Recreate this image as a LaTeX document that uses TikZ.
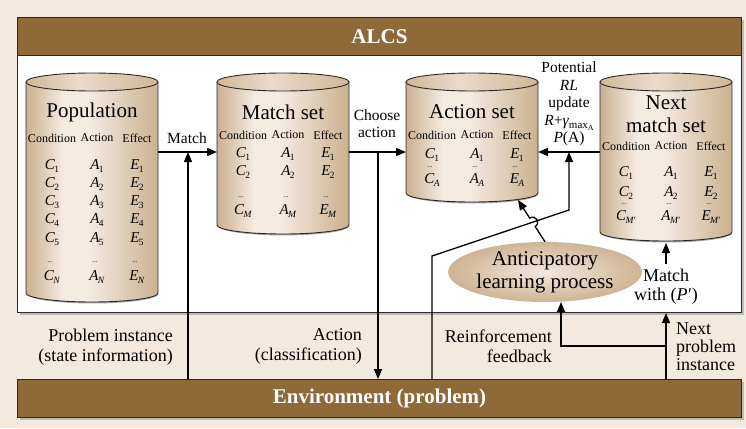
\documentclass[tikz,border=0pt]{standalone}
\usepackage{fontspec}
\setmainfont{Liberation Serif}
\usetikzlibrary{arrows.meta,calc,shapes.geometric,shadows}

\definecolor{bgcream}{HTML}{F3E9DF}
\definecolor{barbrown}{HTML}{8D6A38}
\definecolor{cyltan}{HTML}{CCB08F}
\definecolor{cyllight}{HTML}{F4EBE1}
\definecolor{cyltopdark}{HTML}{D2B797}
\definecolor{cyltoplight}{HTML}{E9DACA}
\definecolor{edgegray}{HTML}{2A2A2A}
\definecolor{alpouter}{HTML}{CFB394}
\definecolor{alpinner}{HTML}{F3E9DE}

% horizontal shading of the cylinder bodies (path box maps to 25bp..75bp)
\pgfdeclarehorizontalshading{cylbody}{100bp}{color(0bp)=(cyltan); color(25bp)=(cyltan); color(39bp)=(cyllight); color(49bp)=(cyllight); color(75bp)=(cyltan); color(100bp)=(cyltan)}
\pgfdeclarehorizontalshading{cyltop}{100bp}{color(0bp)=(cyltopdark); color(25bp)=(cyltopdark); color(45bp)=(cyltoplight); color(75bp)=(cyltopdark); color(100bp)=(cyltopdark)}

\tikzset{
  cylbodystyle/.style={shading=cylbody, draw=edgegray, line width=0.9pt},
  cyltopstyle/.style={shading=cyltop, draw=edgegray, line width=0.9pt},
  cylshadow/.style={draw=black!35, line width=1.6pt},
  settitle/.style={font=\fontsize{21}{24}\selectfont, inner sep=0pt, align=center},
  colhead/.style={font=\fontsize{12}{14}\selectfont, inner sep=0pt},
  entry/.style={font=\fontsize{15}{17}\selectfont, inner sep=0pt},
  smalldots/.style={font=\fontsize{7}{7}\selectfont, inner sep=0pt},
  toplabel/.style={font=\fontsize{15.5}{17.5}\selectfont, inner sep=0pt, align=center},
  lowlabel/.style={font=\fontsize{18}{19.5}\selectfont, inner sep=0pt},
  bar/.style={fill=barbrown, draw=edgegray, line width=1pt, minimum width=724pt,
    minimum height=38pt, anchor=north west, inner sep=0pt, text=white,
    font=\fontsize{21}{24}\selectfont\bfseries},
  conn/.style={line width=1.3pt, draw=black},
  arr/.style={conn, -{Triangle[length=10pt,width=8pt]}},
}

% classifier entry: italic letter with lowered subscript
\newcommand\clsf[2]{\textit{#1}\kern-0.6pt\raisebox{-0.45ex}{\fontsize{9.5}{10}\selectfont #2}}

% cylinder: #1 name, #2 centre x, #3 top y, #4 bottom y
\newcommand\drawcyl[4]{%
  \draw[cylshadow] ({#2-64},{#4-8}) arc[start angle=185,end angle=355,x radius=65pt,y radius=9.5pt];
  \shadedraw[cylbodystyle] ({#2-66},{#3+9}) -- ({#2-66},{#4-9})
    arc[start angle=180,end angle=360,x radius=66pt,y radius=9pt]
    -- ({#2+66},{#3+9}) -- cycle;
  \shadedraw[cyltopstyle] (#2,{#3+9}) ellipse[x radius=66pt,y radius=9pt];
  \coordinate (#1) at (#2,{(#3+#4)/2});
}
% column headings: #1 prefix, #2 centre x, #3 y
\newcommand\headrow[3]{%
  \node[colhead] (#1-hc) at ({#2-40},#3) {Condition};
  \node[colhead] (#1-ha) at ({#2+5},#3) {Action};
  \node[colhead] (#1-he) at ({#2+45},#3) {Effect};
}
% one classifier row: #1 prefix, #2 centre x, #3 y, #4 subscript
\newcommand\tabrow[4]{%
  \node[entry] (#1-c) at ({#2-40},#3) {\clsf{C}{#4}};
  \node[entry] (#1-a) at ({#2+5},#3) {\clsf{A}{#4}};
  \node[entry] (#1-e) at ({#2+45},#3) {\clsf{E}{#4}};
}
% ellipsis row: #1 prefix, #2 centre x, #3 y
\newcommand\dotrow[3]{%
  \node[smalldots] (#1-c) at ({#2-42},#3) {...};
  \node[smalldots] (#1-a) at ({#2+3},#3) {...};
  \node[smalldots] (#1-e) at ({#2+43},#3) {...};
}

\begin{document}
\begin{tikzpicture}[x=1pt,y=-1pt]
\useasboundingbox (0,0) rectangle (746,428);
\fill[bgcream] (0,0) rectangle (746,428);

% ALCS frame and environment bar
\node[draw=edgegray, fill=white, line width=1pt, minimum width=724pt, minimum height=295pt,
  anchor=north west, inner sep=0pt,
  drop shadow={shadow xshift=2.5pt,shadow yshift=-2.5pt,fill=black!45}] (alcs) at (17,17) {};
\node[bar] (alcsbar) at (17,17) {ALCS};
\node[bar, drop shadow={shadow xshift=2.5pt,shadow yshift=-2.5pt,fill=black!45}] (env) at (17,379) {Environment (problem)};

% cylinders
\drawcyl{pop}{92}{73}{302}
\drawcyl{ms}{283}{73}{234}
\drawcyl{as}{472}{73}{202}
\drawcyl{nm}{666}{73}{241}

% population
\node[settitle] (pop-t) at (92,112) {Population};
\headrow{pop}{92}{138}
\tabrow{pop1}{92}{166}{1}
\tabrow{pop2}{92}{184}{2}
\tabrow{pop3}{92}{202}{3}
\tabrow{pop4}{92}{220}{4}
\tabrow{pop5}{92}{239}{5}
\dotrow{popd}{92}{262}
\tabrow{popn}{92}{277}{\textit{N}}

% match set
\node[settitle] (ms-t) at (283,112) {Match set};
\headrow{ms}{283}{135}
\tabrow{ms1}{283}{154}{1}
\tabrow{ms2}{283}{172}{2}
\dotrow{msd}{283}{197}
\tabrow{msm}{283}{211}{\textit{M}}

% action set
\node[settitle] (as-t) at (472,112) {Action set};
\headrow{as}{472}{135}
\tabrow{as1}{472}{155}{1}
\dotrow{asd}{472}{167}
\tabrow{asa}{472}{180}{\textit{A}}

% next match set
\node[settitle] (nm-t) at (666,114.5) {Next\\[-1pt]match set};
\headrow{nm}{666}{146}
\tabrow{nm1}{666}{173}{1}
\tabrow{nm2}{666}{193}{2}
\dotrow{nmd}{666}{204}
\tabrow{nmm}{666}{217}{\textit{M}′}

% anticipatory learning process
\node[ellipse, minimum width=181pt, minimum height=60pt, inner sep=0pt,
  inner color=alpinner, outer color=alpouter, align=center,
  font=\fontsize{21}{23}\selectfont] (alp) at (545,272) {Anticipatory\\learning process};

% junction points
\coordinate (popE) at (158,152);
\coordinate (msW) at (217,152);
\coordinate (msE) at (349,152);
\coordinate (asW) at (406,152);
\coordinate (asE) at (538,152);
\coordinate (nmW) at (600,152);
\coordinate (nmB) at (666,243);
\coordinate (asB) at (518,200);
\coordinate (piX) at (188,152);
\coordinate (caX) at (378,152);
\coordinate (rlX) at (569,152);
\coordinate (rlK) at (569,210);
\coordinate (fbK) at (432,256);
\coordinate (npJ) at (666,346);
\coordinate (rfL) at (561,346);
\coordinate (rfT) at (561,302);
\coordinate (mwT) at (666,264);

% connectors
\draw[arr] (popE) -- (msW);
\draw[arr] (env.north -| piX) -- (piX);
\draw[arr] (msE) -- (asW);
\draw[arr] (caX) -- (env.north -| caX);
\draw[arr] (nmW) -- (asE);
\draw[arr] (env.north -| fbK) -- (fbK) -- (rlK) -- (rlX);
\draw[arr] (env.north -| npJ) -- (alcs.south -| npJ);
\draw[arr] (npJ) -- (rfL) -- (rfT);
\draw[arr] (mwT) -- (nmB);

% learning arrow hopping over the reward line
\coordinate (hopI) at (intersection of alp.north--asB and fbK--rlK);
\coordinate (hopA) at ($(hopI)!5pt!(alp.north)$);
\coordinate (hopB) at ($(hopI)!5pt!(asB)$);
\coordinate (hopAc) at ($(hopA)!7pt!-90:(hopI)$);
\coordinate (hopBc) at ($(hopB)!7pt!90:(hopI)$);
\draw[arr] (alp.north) -- (hopA) .. controls (hopAc) and (hopBc) .. (hopB) -- (asB);

% labels
\node[toplabel] (lmatch) at (187,138) {Match};
\node[toplabel] (lchoose) at (377,123.5) {Choose\\action};
\node[toplabel] (lpot) at (569,104) {Potential\\\textit{RL}\\update\\
  \textit{R}+\textit{γ}\raisebox{-0.5ex}{\fontsize{11}{11}\selectfont max\raisebox{-0.4ex}{\fontsize{8}{8}\selectfont A}}\\
  \textit{P}(A)};
\node[lowlabel, align=right, anchor=east] (lprob) at (173,347) {Problem instance\\(state information)};
\node[lowlabel, align=right, anchor=east] (lact) at (362,346.5) {Action\\(classification)};
\node[lowlabel, align=right, anchor=east] (lrf) at (552,346) {Reinforcement\\feedback};
\node[lowlabel, align=left, anchor=west, font=\fontsize{18}{18}\selectfont] (lnext) at (676,347) {Next\\problem\\instance};
\node[lowlabel, align=center] (lmw) at (666,286.5) {Match\\with (\textit{P}\kern0.5pt′)};
\end{tikzpicture}
\end{document}
